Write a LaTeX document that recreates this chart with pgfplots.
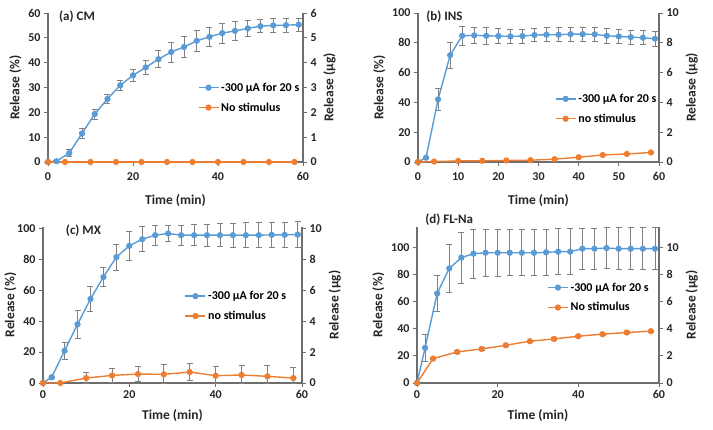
\documentclass[border=0pt]{standalone}
\usepackage{fontspec}
\setmainfont{Carlito}
\usepackage{pgfplots}
\pgfplotsset{compat=1.18}
\definecolor{xblue}{HTML}{5B9BD5}
\definecolor{xorange}{HTML}{ED7D31}
\definecolor{axgray}{HTML}{6E6E6E}

\tikzset{ttl/.style={font=\fontsize{13}{15}\selectfont\bfseries, text=black!85, anchor=west}}
\pgfplotsset{
  base/.style={scale only axis, clip=false, xmin=0, xmax=60, ymin=0, anchor=south west,
    axis line style={draw=axgray, line width=1.1pt, -},
    tick style={draw=axgray, line width=0.8pt}, major tick length=4pt, tick align=outside,
    tick label style={font=\fontsize{12}{14}\selectfont\bfseries, text=black!85},
    label style={font=\fontsize{13.5}{15}\selectfont\bfseries, text=black!85},
    /pgf/number format/assume math mode=true},
  leftax/.style={base, axis x line*=bottom, axis y line*=left,
    xlabel={Time (min)}, ylabel={Release (\%)},
    legend cell align=left,
    legend style={draw=none, fill=none, anchor=north west, row sep=6pt,
      font=\fontsize{12}{14}\selectfont\bfseries},
    legend image code/.code={\draw[mark repeat=2,mark phase=2,##1] plot coordinates {(0pt,0pt)(10pt,0pt)(20pt,0pt)};}},
  toprow/.style={xticklabel style={yshift=-3pt}, xlabel style={yshift=-7pt}},
  botrow/.style={xlabel style={yshift=-4pt}},
  rightax/.style={base, axis x line=none, axis y line*=right, ylabel={Release (µg)}},
  sblue/.style={xblue, line width=1.4pt, mark=*, mark size=2.4pt, mark options={fill=xblue, draw=xblue, solid}},
  sorange/.style={xorange, line width=1.4pt, mark=*, mark size=2.4pt, mark options={fill=xorange, draw=xorange, solid}},
  errs/.style={error bars/.cd, y dir=both, y explicit,
    error bar style={draw=gray, line width=0.8pt},
    error mark options={draw=gray, rotate=90, mark size=3pt, line width=0.8pt}},
}

\pgfplotstableread{
t r ep em
0 0 0 0
2 0.3 0.3 0.3
5 3.6 1.4 1.4
8 11.5 2.2 2.2
11 19.3 2 2
14 25.4 2 2
17 30.9 1.9 1.9
20 34.9 2.3 2.3
23 38.1 2.8 2.8
26 41.4 3.5 3.5
29 44.3 4 4
32 46.3 4.3 4.3
35 48.8 4.3 4.3
38 50.4 4 4
41 51.9 4 4
44 52.8 3.7 3.7
47 53.8 3.3 3.3
50 54.7 2.7 2.7
53 55 2.7 2.7
56 55.1 2.8 2.8
59 55.3 2.7 2.7
}\cmblue
\pgfplotstableread{
t r
0 0
4 0
10 0
16 0
22 0
28 0
34 0
40 0
46 0
52 0
58 0
}\cmorange

\pgfplotstableread{
t r ep em
0 0 0 0
2 2.9 0.5 0.5
5 42 7.5 7.5
8 71.7 8.8 8.8
11 84.7 6.5 6.5
14 85 5.5 5.5
17 84.7 5.5 5.5
20 84.5 5.2 5.2
23 84.3 4.5 4.5
26 84.5 4.8 4.8
29 85.2 4.5 4.5
32 85.4 4.8 4.8
35 85.4 4.8 4.8
38 85.8 4.6 4.6
41 85.8 4.6 4.6
44 85.7 4.5 4.5
47 84.7 4.8 4.8
50 84.3 5 5
53 83.8 4.8 4.8
56 83.4 4.8 4.8
59 82.7 4.8 4.8
}\insblue
\pgfplotstableread{
t r
0 0
4 0.3
10 0.7
16 0.8
22 1.0
28 1.2
34 1.9
40 3.2
46 4.7
52 5.4
58 6.4
}\insorange

\pgfplotstableread{
t r ep em
0 0 0 0
2 3.7 0.5 0.5
5 20.9 5.4 5.4
8 38 9 9
11 54.4 8.2 8.2
14 68.6 6.2 6.2
17 81.5 8.3 8.3
20 88.8 9.3 9.3
23 93.1 8 8
26 95.7 6.6 6.6
29 96.8 5.3 5.3
32 95.7 6.6 6.6
35 95.7 6.8 6.8
38 95.7 7 7
41 95.7 7.5 7.5
44 95.7 7.8 7.8
47 95.7 8 8
50 95.7 8.2 8.2
53 95.9 8.3 8.3
56 95.9 8.3 8.3
59 96.1 8.2 8.2
}\mxblue
\pgfplotstableread{
t r ep em
0 0 0 0
4 0 0 0
10 3.2 3.8 3.2
16 4.9 4.5 4.5
22 5.8 4.8 4.8
28 5.6 6.2 5.6
34 7.1 5.4 5.4
40 4.7 5.8 4.7
46 5.2 6 5.2
52 4.3 6.8 4.3
58 3.2 6.8 3.2
}\mxorange

\pgfplotstableread{
t r ep em
0 0 0 0
2 25.9 10 10
5 66 13.5 13.5
8 84.5 17.8 17.8
11 92.4 18.8 18.8
14 95.3 18 18
17 96 17.5 17.5
20 96 17.5 17.5
23 96 17 17
26 96 17 17
29 96 17 17
32 96.3 17 17
35 96.8 17 17
38 96.8 17 17
41 99 15 15
44 99 15 15
47 99.5 15 15
50 99 15.5 15.5
53 99 15.5 15.5
56 99 15.5 15.5
59 99 15.5 15.5
}\flblue
\pgfplotstableread{
t r ep em
0 0 0 0
4 18 0.8 0.8
10 22.9 0.8 0.8
16 25.1 0.8 0.8
22 27.8 0.8 0.8
28 30.8 0.8 0.8
34 32.5 0.8 0.8
40 34.5 0.8 0.8
46 36 0.8 0.8
52 37.2 0.8 0.8
58 38.2 0.8 0.8
}\florange

\begin{document}
\begin{tikzpicture}
\path[use as bounding box] (0pt,0pt) rectangle (713pt,430pt);

% (a) CM
\begin{axis}[leftax, toprow, at={(48pt,268pt)}, width=255pt, height=149pt, ymax=60,
  ytick={0,10,...,60}, xtick={0,20,40,60},
  legend style={at={(0.575,0.56)}}]
\addplot[sblue, errs] table[x=t, y=r, y error plus=ep, y error minus=em] {\cmblue};
\addplot[sorange] table[x=t, y=r] {\cmorange};
\legend{-300 µA for 20 s, No stimulus}
\node[ttl] at (rel axis cs:0.03,0.975) {(a) CM};
\end{axis}
\begin{axis}[rightax, at={(48pt,268pt)}, width=255pt, height=149pt, ymax=6, ytick={0,1,...,6}]
\end{axis}

% (b) INS
\begin{axis}[leftax, toprow, at={(418pt,268pt)}, width=241pt, height=149pt, ymax=100,
  ytick={0,20,...,100}, xtick={0,10,...,60},
  legend style={at={(0.555,0.485)}}]
\addplot[sblue, errs] table[x=t, y=r, y error plus=ep, y error minus=em] {\insblue};
\addplot[sorange] table[x=t, y=r] {\insorange};
\legend{-300 µA for 20 s, no stimulus}
\node[ttl] at (rel axis cs:0.02,0.975) {(b) INS};
\end{axis}
\begin{axis}[rightax, at={(418pt,268pt)}, width=241pt, height=149pt, ymax=10, ytick={0,2,...,10}]
\end{axis}

% (c) MX
\begin{axis}[leftax, botrow, at={(43pt,47pt)}, width=259pt, height=156pt, ymax=101,
  ytick={0,20,...,100}, xtick={0,20,40,60}, ylabel style={yshift=-6pt},
  legend style={at={(0.535,0.615)}}]
\addplot[sblue, errs] table[x=t, y=r, y error plus=ep, y error minus=em] {\mxblue};
\addplot[sorange, errs] table[x=t, y=r, y error plus=ep, y error minus=em] {\mxorange};
\legend{-300 µA for 20 s, no stimulus}
\node[ttl] at (rel axis cs:0.075,0.975) {(c) MX};
\end{axis}
\begin{axis}[rightax, at={(43pt,47pt)}, width=259pt, height=156pt, ymax=10.1, ytick={0,2,...,10}]
\end{axis}

% (d) FL-Na
\begin{axis}[leftax, botrow, at={(417pt,47pt)}, width=242pt, height=156pt, ymax=115,
  ytick={0,20,...,100}, xtick={0,20,40,60},
  legend style={at={(0.525,0.67)}}]
\addplot[sblue, errs] table[x=t, y=r, y error plus=ep, y error minus=em] {\flblue};
\addplot[sorange, errs] table[x=t, y=r, y error plus=ep, y error minus=em] {\florange};
\legend{-300 µA for 20 s, No stimulus}
\node[ttl] at (rel axis cs:0.02,1.045) {(d) FL-Na};
\end{axis}
\begin{axis}[rightax, at={(417pt,47pt)}, width=242pt, height=156pt, ymax=11.5, ytick={0,2,...,10}]
\end{axis}

\end{tikzpicture}
\end{document}
